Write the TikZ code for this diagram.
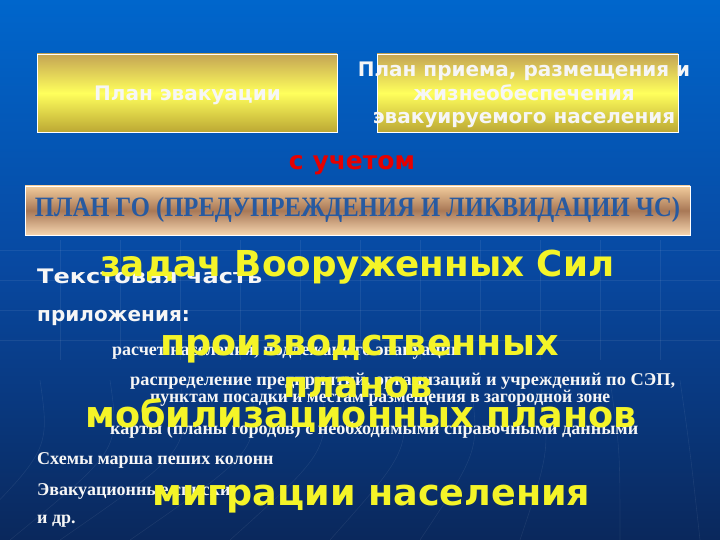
\documentclass[tikz,border=0pt]{standalone}
\usepackage{fontspec}
\setmainfont{Liberation Serif}
\newfontfamily\dvs{DejaVu Sans}
\newfontfamily\lsans{Liberation Sans}
\usetikzlibrary{positioning}
\definecolor{bgtop}{RGB}{0,102,204}
\definecolor{bgmid}{RGB}{8,72,160}
\definecolor{bgbot}{RGB}{10,40,92}
\definecolor{ytop}{RGB}{196,164,84}
\definecolor{ymid}{RGB}{255,255,92}
\definecolor{ybot}{RGB}{188,168,52}
\definecolor{ptop}{RGB}{242,204,156}
\definecolor{pmid}{RGB}{168,120,86}
\definecolor{pbot}{RGB}{246,214,176}
\definecolor{bigyel}{RGB}{244,244,40}
\definecolor{txtwhite}{RGB}{246,246,246}
\definecolor{redtxt}{RGB}{230,0,0}
\definecolor{gotxt}{RGB}{40,90,160}
\tikzset{
  yelbox/.style={draw=white,line width=0.8pt,top color=ytop,bottom color=ybot,middle color=ymid,inner sep=0pt},
  peachbox/.style={draw=white,line width=0.8pt,top color=ptop,bottom color=pbot,middle color=pmid,inner sep=0pt},
  boxtext/.style={font=\dvs\bfseries\fontsize{20}{23.5}\selectfont,text=txtwhite,align=center,inner sep=0pt},
  bigyellow/.style={font=\dvs\bfseries\fontsize{36.5}{36.5}\selectfont,text=bigyel,inner sep=0pt,anchor=base west},
  whitesans/.style={font=\dvs\bfseries\fontsize{20}{20}\selectfont,text=txtwhite,inner sep=0pt,anchor=base west},
  serifline/.style={font=\bfseries\fontsize{18}{18}\selectfont,text=txtwhite,inner sep=0pt,anchor=base west},
  faint/.style={draw=white,opacity=0.07,line width=0.6pt}
}
\begin{document}
\begin{tikzpicture}[x=1pt,y=-1pt]
\useasboundingbox (0,0) rectangle (720,540);
\shade[top color=bgtop,bottom color=bgbot,middle color=bgmid] (0,0) rectangle (720,540);
% faint background lines
\foreach \xx in {60,120,...,700} {\draw[faint] (\xx,240) -- (\xx,360);}
\foreach \yy in {250,280,310,340} {\draw[faint] (0,\yy) -- (720,\yy);}
\foreach \xx/\bb in {40/-40,110/10,180/60,250/130,320/230,400/330,470/420,540/520,610/620,680/700} {\draw[faint] (\xx,380) .. controls (\xx+10,450) .. (\bb,540);}
% boxes
\node[yelbox,minimum width=300pt,minimum height=78pt] (evac) at (187,93) {};
\node[boxtext] (evact) at (187.5,95) {План эвакуации};
\node[yelbox,minimum width=301pt,minimum height=78pt] (recv) at (527.5,93) {};
\node[boxtext] (recvt) at (524,95) {План приема, размещения и\\жизнеобеспечения\\эвакуируемого населения};
\node[font=\dvs\bfseries\fontsize{25}{25}\selectfont,text=redtxt,inner sep=0pt,anchor=base] (uchet) at (352,170) {с учетом};
\node[peachbox,minimum width=665pt,minimum height=49pt] (go) at (357.5,210.5) {};
\node[inner sep=0pt,anchor=base,text=gotxt] (got) at (357.5,216) {\resizebox{645pt}{\height}{\bfseries\fontsize{28}{28}\selectfont ПЛАН ГО (ПРЕДУПРЕЖДЕНИЯ И ЛИКВИДАЦИИ ЧС)}};
% white text
\node[whitesans] (tekst) at (37,283) {\resizebox{225pt}{\height}{Текстовая часть}};
\node[whitesans] (pril) at (37,321) {приложения:};
\node[serifline] (s1) at (112,355) {расчет населения, подлежащего эвакуации};
\node[serifline] (s2) at (130,385) {\resizebox{545pt}{\height}{распределение предприятий, организаций и учреждений по СЭП,}};
\node[serifline] (s3) at (150,402) {\resizebox{460pt}{\height}{пунктам посадки и местам размещения в загородной зоне}};
\node[serifline] (s4) at (110,434) {\resizebox{528pt}{\height}{карты (планы городов) с необходимыми справочными данными}};
\node[serifline] (s5) at (37,464) {Схемы марша пеших колонн};
\node[serifline] (s6) at (37,495) {Эвакуационные списки};
\node[serifline] (s7) at (37,523) {и др.};
% big yellow text
\node[bigyellow,font=\dvs\bfseries\fontsize{35.7}{35.7}\selectfont] (y1) at (100,276) {задач Вооруженных Сил};
\node[bigyellow] (y2) at (160,355) {производственных};
\node[bigyellow,anchor=base] (y3) at (358,397) {планов};
\node[bigyellow] (y4) at (85,427) {мобилизационных планов};
\node[bigyellow] (y5) at (152,505) {миграции населения};
\end{tikzpicture}
\end{document}
